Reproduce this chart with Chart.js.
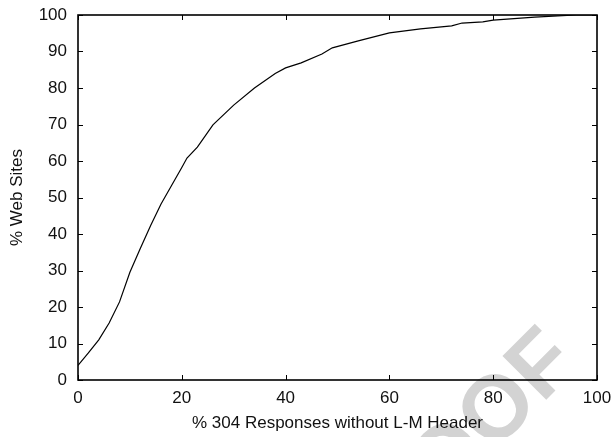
<!DOCTYPE html>
<html>
<head>
<meta charset="utf-8">
<script src="https://cdn.jsdelivr.net/npm/chart.js@4.4.1/dist/chart.umd.min.js"></script>
<style>
  html, body { margin: 0; padding: 0; background: #fff; }
  #wrap { width: 615px; height: 437px; }
</style>
</head>
<body>
<div id="wrap"><canvas id="cdfChart"></canvas></div>
<script>
// % of 304 responses without Last-Modified header (x) vs cumulative % of web sites (y)
const respPct = [0, 2, 4, 6, 8, 10, 12, 14, 16, 18, 20, 21, 23, 26, 30, 34, 38, 40, 43, 47, 49, 54, 60, 66, 72, 74, 78, 80, 88, 96, 100];
const sitePct = [4, 7.4, 11, 15.6, 21.4, 29.5, 36, 42.3, 48.2, 53.2, 58.2, 60.8, 63.8, 69.9, 75.3, 80, 84, 85.5, 86.9, 89.3, 91, 92.9, 95.1, 96.2, 97, 97.8, 98.1, 98.6, 99.4, 100, 100];

const xTicks = [0, 20, 40, 60, 80, 100];
const yTicks = [0, 10, 20, 30, 40, 50, 60, 70, 80, 90, 100];

const points = respPct.map((x, i) => ({ x: x, y: sitePct[i] }));

const fontFamily = "'Liberation Sans', Arial, Helvetica, sans-serif";

// gnuplot style frame with inward ticks on all four sides
const framePlugin = {
  id: "frame",
  afterDraw(chart) {
    const { ctx, chartArea: a, scales } = chart;
    ctx.save();
    ctx.strokeStyle = "#000";
    ctx.lineWidth = 1.6;
    ctx.strokeRect(a.left, a.top, a.right - a.left, a.bottom - a.top);
    ctx.lineWidth = 1;
    ctx.beginPath();
    xTicks.forEach((t) => {
      const px = Math.round(scales.x.getPixelForValue(t)) + 0.5;
      ctx.moveTo(px, a.bottom);
      ctx.lineTo(px, a.bottom - 5);
      ctx.moveTo(px, a.top);
      ctx.lineTo(px, a.top + 5);
    });
    yTicks.forEach((t) => {
      const py = Math.round(scales.y.getPixelForValue(t)) + 0.5;
      ctx.moveTo(a.left, py);
      ctx.lineTo(a.left + 5, py);
      ctx.moveTo(a.right, py);
      ctx.lineTo(a.right - 5, py);
    });
    ctx.stroke();
    ctx.restore();
  },
};

// light grey "PROOF" stamp behind the chart
const stampPlugin = {
  id: "stamp",
  beforeDraw(chart) {
    const ctx = chart.ctx;
    ctx.save();
    ctx.font = "bold 90px " + fontFamily;
    ctx.fillStyle = "#d3d3d3";
    ctx.translate(542, 404);
    ctx.rotate(-Math.PI / 4);
    ctx.textAlign = "right";
    ctx.textBaseline = "alphabetic";
    ctx.fillText("PROOF", ctx.measureText("F").width, 0);
    ctx.restore();
  },
};

new Chart(document.getElementById("cdfChart"), {
  type: "line",
  data: {
    datasets: [
      {
        data: points,
        borderColor: "#000",
        borderWidth: 1.2,
        pointRadius: 0,
        tension: 0,
        fill: false,
      },
    ],
  },
  options: {
    responsive: true,
    maintainAspectRatio: false,
    animation: false,
    events: [],
    layout: {
      padding: { top: 15, right: 18, left: 0, bottom: 0 },
    },
    plugins: {
      legend: { display: false },
      tooltip: { enabled: false },
    },
    scales: {
      x: {
        type: "linear",
        min: 0,
        max: 100,
        afterFit: (s) => {
          s.height = 57;
          s.paddingLeft = 0;
          s.paddingRight = 0;
        },
        afterBuildTicks: (s) => { s.ticks = xTicks.map((v) => ({ value: v })); },
        grid: { display: false, drawTicks: false },
        border: { display: false },
        ticks: {
          padding: 8,
          color: "#111",
          font: { family: fontFamily, size: 17 },
          maxRotation: 0,
        },
        title: {
          display: true,
          text: "% 304 Responses without L-M Header",
          color: "#111",
          font: { family: fontFamily, size: 17 },
          padding: { top: 0, bottom: 3 },
        },
      },
      y: {
        type: "linear",
        min: 0,
        max: 100,
        afterFit: (s) => {
          s.width = 78;
          s.paddingTop = 0;
          s.paddingBottom = 0;
        },
        afterBuildTicks: (s) => { s.ticks = yTicks.map((v) => ({ value: v })); },
        grid: { display: false, drawTicks: false },
        border: { display: false },
        ticks: {
          padding: 11,
          color: "#111",
          font: { family: fontFamily, size: 17 },
        },
        title: {
          display: true,
          text: "% Web Sites",
          color: "#111",
          font: { family: fontFamily, size: 17 },
          padding: { top: 7, bottom: 0 },
        },
      },
    },
  },
  plugins: [stampPlugin, framePlugin],
});
</script>
</body>
</html>
